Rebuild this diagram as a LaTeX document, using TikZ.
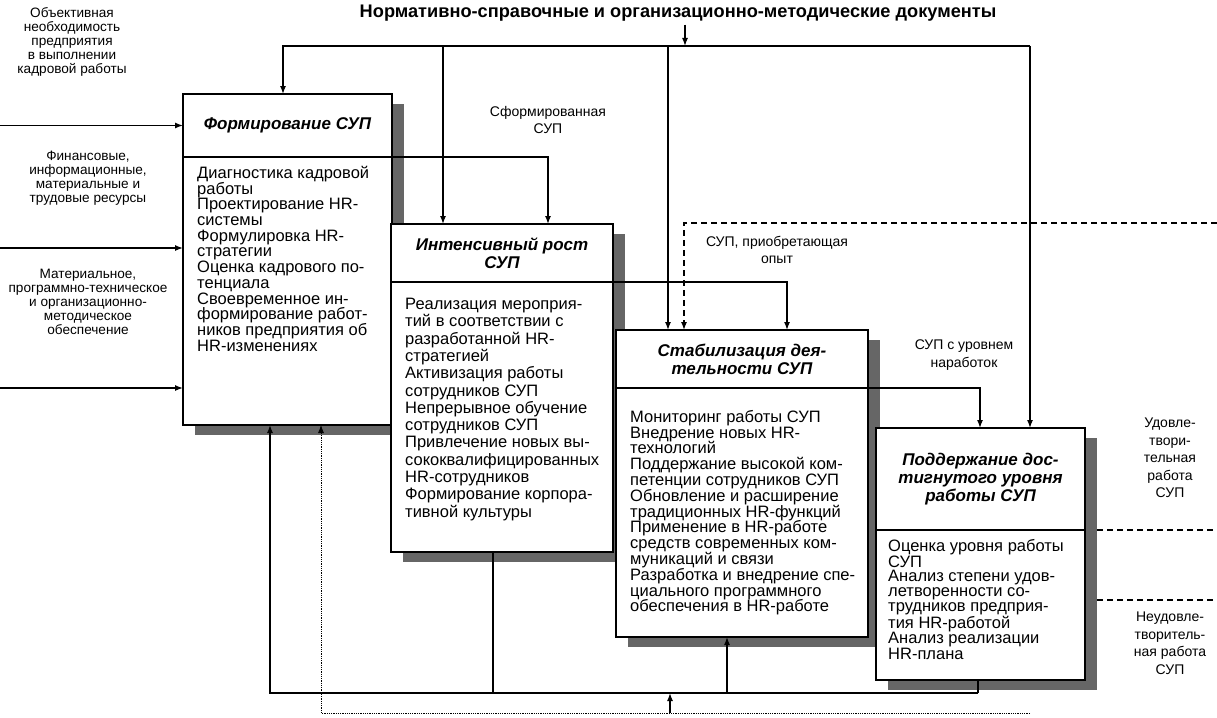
\documentclass[tikz,border=0pt]{standalone}
\usepackage{fontspec}
\setmainfont{Liberation Sans}
\usetikzlibrary{positioning,calc,arrows.meta,backgrounds}
\tikzset{
	flow/.style={line width=1.3pt,-{Latex[length=8pt,width=6pt]}},
	link/.style={line width=1.3pt},
	hdr/.style={draw,line width=1.6pt,fill=white,inner sep=0pt,outer sep=0pt,align=center,
			font=\bfseries\itshape\fontsize{17}{18}\selectfont},
	bodybox/.style={draw,line width=1.6pt,fill=white,inner sep=0pt,outer sep=0pt},
	bodytext/.style={inner sep=0pt,align=left,font=\fontsize{16.5}{#1}\selectfont},
	note/.style={align=center,font=\fontsize{14}{17.5}\selectfont},
	smallnote/.style={align=center,font=\fontsize{13.6}{14}\selectfont},
	boxshadow/.style={fill=black!60}
}
\begin{document}
\begin{tikzpicture}[x=1pt,y=-1pt]
	\useasboundingbox (0,0) rectangle (1217,717);
	% documents on top
	\node[font=\bfseries\fontsize{18.2}{19}\selectfont] (docs) at (678,13) {Нормативно-справочные и организационно-методические документы};
	\coordinate (dj) at (685,46);
	\coordinate (dl) at (283,46);
	\coordinate (d2) at (443,46);
	\coordinate (d3) at (668,46);
	\coordinate (dr) at (1030,46);

	% stages
	\node[hdr,minimum width=209,minimum height=63,anchor=north west] (formH) at (183,94) {Формирование СУП};
	\node[bodybox,minimum width=209,minimum height=268,below=0pt of formH] (formB) {};
	\node[hdr,minimum width=222,minimum height=58,anchor=north west] (intH) at (391,224) {Интенсивный рост\\СУП};
	\node[bodybox,minimum width=222,minimum height=270,below=0pt of intH] (intB) {};
	\node[hdr,minimum width=252,minimum height=58,anchor=north west] (stabH) at (616,330) {Стабилизация дея-\\тельности СУП};
	\node[bodybox,minimum width=252,minimum height=249,below=0pt of stabH] (stabB) {};
	\node[hdr,minimum width=209,minimum height=102,anchor=north west] (suppH) at (876,428) {Поддержание дос-\\тигнутого уровня\\работы СУП};
	\node[bodybox,minimum width=209,minimum height=150,below=0pt of suppH] (suppB) {};

	\begin{scope}[on background layer]
		\foreach \h/\b in {formH/formB,intH/intB,stabH/stabB,suppH/suppB}
		\fill[boxshadow] ($(\h.north west)+(12,10)$) rectangle ($(\b.south east)+(12,10)$);
	\end{scope}

	\node[bodytext=15.7,anchor=north west,below right=9pt and 14pt of formB.north west] (formT) {Диагностика кадровой\\работы\\Проектирование HR-\\системы\\Формулировка HR-\\стратегии\\Оценка кадрового по-\\тенциала\\Своевременное ин-\\формирование работ-\\ников предприятия об\\HR-изменениях};
	\node[bodytext=17.3,anchor=north west,below right=16pt and 14pt of intB.north west] (intT) {Реализация мероприя-\\тий в соответствии с\\разработанной HR-\\стратегией\\Активизация работы\\сотрудников СУП\\Непрерывное обучение\\сотрудников СУП\\Привлечение новых вы-\\сококвалифицированных\\HR-сотрудников\\Формирование корпора-\\тивной культуры};
	\node[bodytext=15.8,anchor=north west,below right=22pt and 14pt of stabB.north west] (stabT) {Мониторинг работы СУП\\Внедрение новых HR-\\технологий\\Поддержание высокой ком-\\петенции сотрудников СУП\\Обновление и расширение\\традиционных HR-функций\\Применение в HR-работе\\средств современных ком-\\муникаций и связи\\Разработка и внедрение спе-\\циального программного\\обеспечения в HR-работе};
	\node[bodytext=14.7,anchor=north west,below right=9pt and 12pt of suppB.north west] (suppT) {Оценка уровня работы\\СУП\\Анализ степени удов-\\летворенности со-\\трудников предприя-\\тия HR-работой\\Анализ реализации\\HR-плана};

	% labels
	\node[smallnote] (objL) at (72,42) {Объективная\\необходимость\\предприятия\\в выполнении\\кадровой работы};
	\node[smallnote] (finL) at (88,178) {Финансовые,\\информационные,\\материальные и\\трудовые ресурсы};
	\node[smallnote] (matL) at (88,302) {Материальное,\\программно-техническое\\и организационно-\\методическое\\обеспечение};
	\node[note] (sfL) at (548,120) {Сформированная\\СУП};
	\node[note] (opL) at (777,250) {СУП, приобретающая\\опыт};
	\node[note] (nrL) at (964,355) {СУП с уровнем\\наработок};
	\node[note] (okL) at (1170,458) {Удовле-\\твори-\\тельная\\работа\\СУП};
	\node[note] (badL) at (1170,643) {Неудовле-\\творитель-\\ная работа\\СУП};

	% control from documents
	\draw[flow] (docs.south -| dj) -- (dj);
	\draw[flow] (dr) -- (dl) -- (dl |- formH.north);
	\draw[flow] (d2) -- (d2 |- intH.north);
	\draw[flow] (d3) -- (d3 |- stabH.north);
	\draw[flow] (dr) -- (dr |- suppH.north);

	% inputs on the left
	\coordinate (edgeL) at (0,0);
	\coordinate (in2) at (0,248);
	\coordinate (in3) at (0,388);
	\draw[flow] (formH.west -| edgeL) -- (formH.west);
	\draw[flow] (in2) -- (in2 -| formB.west);
	\draw[flow] (in3) -- (in3 -| formB.west);

	% stage to stage
	\coordinate (sf) at (548,157);
	\coordinate (op) at (787,283);
	\coordinate (nr) at (980,390);
	\draw[flow] (formH.south east) -| (sf |- intH.north);
	\draw[flow] (intH.south east) -| (op |- stabH.north);
	\draw[flow] (stabH.south east) -| (nr |- suppH.north);

	% experience and results on the right
	\coordinate (exp) at (1217,223);
	\coordinate (expX) at (684,223);
	\coordinate (okR) at (1217,530);
	\coordinate (badR) at (1217,600);
	\draw[flow,dash pattern=on 6pt off 4pt] (exp) -- (expX) -- (expX |- stabH.north);
	\draw[link,dash pattern=on 6pt off 4pt] (okR -| suppB.east) ++(12pt,0) -- (okR);
	\draw[link,dash pattern=on 6pt off 4pt] (badR -| suppB.east) ++(12pt,0) -- (badR);

	% feedback at the bottom
	\coordinate (fbL) at (270,693);
	\coordinate (fb2) at (493,693);
	\coordinate (fb3) at (727,693);
	\coordinate (fbR) at (978,693);
	\draw[link] (intB.south -| fb2) -- (fb2);
	\draw[link] (suppB.south -| fbR) -- (fbR);
	\draw[flow] (fbR) -- (fbL) -- (fbL |- formB.south);
	\draw[flow] (fb3) -- (fb3 |- stabB.south);
	\coordinate (resL) at (321,713);
	\coordinate (resU) at (670,713);
	\coordinate (resR) at (1030,713);
	\draw[flow,line width=0.8pt,densely dotted] (resR) -- (resL) -- (resL |- formB.south);
	\draw[flow] (resU) -- (resU |- fbL);
\end{tikzpicture}
\end{document}
